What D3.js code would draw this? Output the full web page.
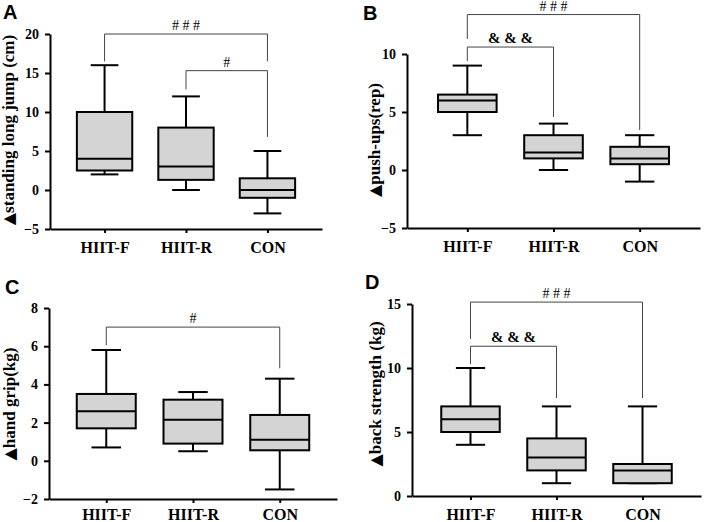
<!DOCTYPE html>
<html lang="en">
<head>
  <meta charset="UTF-8">
  <title>HIIT box plots</title>
  <style>
    body { margin: 0; background: #fff; }
    svg text { font-family: "Liberation Serif", "Times New Roman", serif; }
  </style>
</head>
<body>
  <svg id="svg" width="706" height="522"></svg>
  <script src="https://d3js.org/d3.v7.min.js"></script>
  <script>
    // groups on the x axis
    const groups = ['HIIT-F', 'HIIT-R', 'CON']

    // box stats per group: [min, q1, median, q3, max]
    const jumpBox = [[2, 2.5, 4, 10, 16], [0, 1.3, 3, 8, 12], [-3, -1, 0, 1.5, 5]]
    const pushBox = [[3, 5, 6, 6.5, 9], [0, 1, 1.5, 3, 4], [-1, 0.5, 1, 2, 3]]
    const gripBox = [[0.7, 1.7, 2.6, 3.5, 5.8], [0.5, 0.9, 2.15, 3.2, 3.6], [-1.5, 0.55, 1.1, 2.4, 4.3]]
    const backBox = [[4, 5, 6, 7, 10], [1, 2, 3, 4.5, 7], [1, 1, 2, 2.5, 7]]

    // y tick labels
    const jumpTicks = [-5, 0, 5, 10, 15, 20]
    const pushTicks = [-5, 0, 5, 10]
    const gripTicks = [-2, 0, 2, 4, 6, 8]
    const backTicks = [0, 5, 10, 15]

    // significance brackets: from group, to group, bar level, left/right drop ends, mark
    const jumpSig = [
      { from: 0, to: 2, level: 20, left: 16.5, right: 16.5, mark: '# # #' },
      { from: 1, to: 2, level: 15.3, left: 12.9, right: 6.8, mark: '#' }
    ]
    const pushSig = [
      { from: 0, to: 2, level: 13.4, left: 11.3, right: 3.45, mark: '# # #' },
      { from: 0, to: 1, level: 10.6, left: 9.4, right: 4.57, mark: '& & &' }
    ]
    const gripSig = [
      { from: 0, to: 2, level: 7.0, left: 6.05, right: 4.84, mark: '#' }
    ]
    const backSig = [
      { from: 0, to: 2, level: 15.15, left: 12.27, right: 7.66, mark: '# # #' },
      { from: 0, to: 1, level: 11.7, left: 10.3, right: 7.66, mark: '& & &' }
    ]

    // panel layout (pixels), values come from the arrays above
    const panels = [
      { letter: 'A', title: 'standing long jump (cm)', box: jumpBox, ticks: jumpTicks, sig: jumpSig,
        x0: 50, x1: 322, yTop: 34, yBot: 229, pad: 0.67, gap: 9, tx: 14, ty: 130, lx: 3, ly: 19 },
      { letter: 'B', title: 'push-ups(rep)', box: pushBox, ticks: pushTicks, sig: pushSig,
        x0: 407, x1: 700, yTop: 54, yBot: 228, pad: 0.7, gap: 9, tx: 380, ty: 140, lx: 363, ly: 20 },
      { letter: 'C', title: 'hand grip(kg)', box: gripBox, ticks: gripTicks, sig: gripSig,
        x0: 49, x1: 337, yTop: 308, yBot: 499, pad: 0.66, gap: 6, tx: 15, ty: 404, lx: 5, ly: 294 },
      { letter: 'D', title: 'back strength (kg)', box: backBox, ticks: backTicks, sig: backSig,
        x0: 412, x1: 701, yTop: 304, yBot: 496, pad: 0.68, gap: 9, tx: 381, ty: 394, lx: 365, ly: 289 }
    ]

    const svg = d3.select('#svg')

    panels.forEach(p => {
      const g = svg.append('g')
      const y = d3.scaleLinear()
        .domain(d3.extent(p.ticks))
        .range([p.yBot, p.yTop])
      const x = d3.scalePoint()
        .domain(groups)
        .range([p.x0, p.x1])
        .padding(p.pad)
      const bw = x.step() * 0.68

      // axes
      const yAxis = g.append('g')
        .attr('transform', `translate(${p.x0},0)`)
        .call(d3.axisLeft(y).tickValues(p.ticks).tickSize(5).tickSizeOuter(0).tickPadding(6))
      const xAxis = g.append('g')
        .attr('transform', `translate(0,${p.yBot})`)
        .call(d3.axisBottom(x).tickSize(4).tickSizeOuter(0).tickPadding(p.gap))
      ;[yAxis, xAxis].forEach(a => {
        a.selectAll('path, line').attr('stroke', '#000').attr('stroke-width', 2)
        a.selectAll('text')
          .attr('fill', '#000')
          .style('font-family', '"Liberation Serif", serif')
          .style('font-weight', 'bold')
      })
      yAxis.selectAll('text').style('font-size', '14px')
      xAxis.selectAll('text').style('font-size', '16px')

      // boxes
      const boxes = g.selectAll('g.box')
        .data(p.box)
        .enter()
        .append('g')
        .attr('class', 'box')
        .attr('transform', (d, i) => `translate(${x(groups[i])},0)`)

      boxes.append('line') // upper whisker
        .attr('x1', 0).attr('x2', 0)
        .attr('y1', d => y(d[4])).attr('y2', d => y(d[3]))
      boxes.append('line') // lower whisker
        .attr('x1', 0).attr('x2', 0)
        .attr('y1', d => y(d[1])).attr('y2', d => y(d[0]))
      boxes.append('line') // max cap
        .attr('x1', -bw / 4).attr('x2', bw / 4)
        .attr('y1', d => y(d[4])).attr('y2', d => y(d[4]))
      boxes.append('line') // min cap
        .attr('x1', -bw / 4).attr('x2', bw / 4)
        .attr('y1', d => y(d[0])).attr('y2', d => y(d[0]))
      boxes.append('rect')
        .attr('x', -bw / 2)
        .attr('width', bw)
        .attr('y', d => y(d[3]))
        .attr('height', d => y(d[1]) - y(d[3]))
        .attr('fill', '#d4d4d4')
      boxes.append('line') // median
        .attr('x1', -bw / 2).attr('x2', bw / 2)
        .attr('y1', d => y(d[2])).attr('y2', d => y(d[2]))
      boxes.selectAll('line, rect')
        .attr('stroke', '#000')
        .attr('stroke-width', 2)

      // significance brackets
      p.sig.forEach(s => {
        const xa = x(groups[s.from])
        const xb = x(groups[s.to])
        g.append('path')
          .attr('d', `M${xa},${y(s.left)}V${y(s.level)}H${xb}V${y(s.right)}`)
          .attr('fill', 'none')
          .attr('stroke', '#444')
          .attr('stroke-width', 1)
        g.append('text')
          .attr('x', (xa + xb) / 2)
          .attr('y', y(s.level) - 4)
          .attr('text-anchor', 'middle')
          .style('font-size', s.mark[0] === '&' ? '15px' : '14px')
          .style('font-weight', s.mark[0] === '&' ? 'bold' : 'normal')
          .text(s.mark)
      })

      // y title, the triangle drawn bigger in a sans font
      const title = g.append('text')
        .attr('transform', `translate(${p.tx},${p.ty}) rotate(-90)`)
        .attr('text-anchor', 'middle')
        .style('font-size', '17px')
        .style('font-weight', 'bold')
      title.append('tspan')
        .style('font-family', '"DejaVu Sans", sans-serif')
        .style('font-size', '16px')
        .text('▲')
      title.append('tspan').text(p.title)

      // panel letter
      g.append('text')
        .attr('x', p.lx)
        .attr('y', p.ly)
        .style('font-family', '"Liberation Sans", Arial, sans-serif')
        .style('font-size', '20px')
        .style('font-weight', 'bold')
        .text(p.letter)
    })
  </script>
</body>
</html>
